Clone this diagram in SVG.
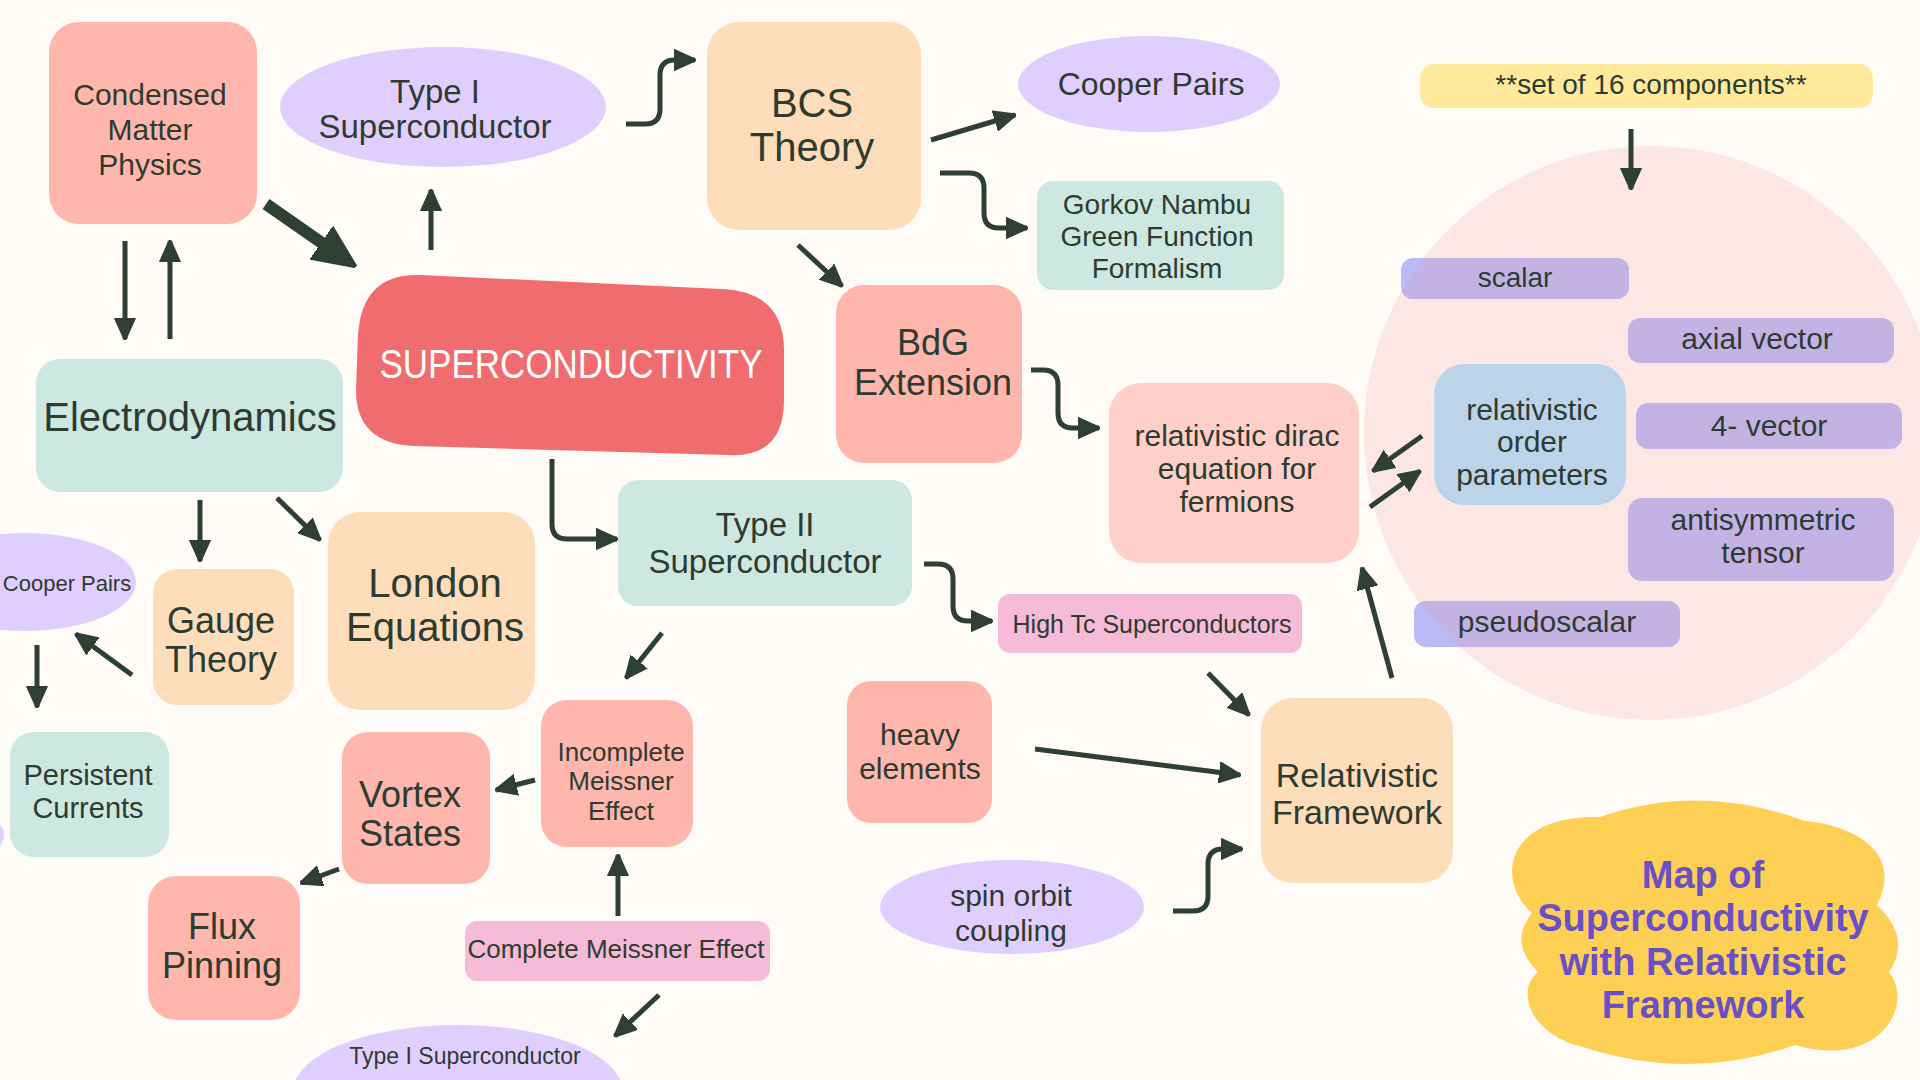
<svg xmlns="http://www.w3.org/2000/svg" width="1920" height="1080" viewBox="0 0 1920 1080">
<defs>
<style>
.t{font-family:"Liberation Sans",Arial,sans-serif;fill:#2E3B31;text-anchor:middle}
.w{fill:#FFFFFF}
.ti{font-family:"Liberation Sans",Arial,sans-serif;fill:#6A4FC7;text-anchor:middle;font-weight:bold}
.salmon{fill:#FFB6AD}
.peach{fill:#FEDDBA}
.mint{fill:#CDE8E0}
.lav{fill:#E0CFFE}
.pink{fill:#F6BBD6}
.lpink{fill:#FFD0CA}
.bar{fill:#C3B3E5}
.barb{fill:#B9BCF7}
.c{fill:none;stroke:#2E3F34;stroke-width:5;stroke-linejoin:round}
</style>
<marker id="ah" viewBox="0 0 20 20" refX="19" refY="10" markerWidth="22" markerHeight="22" markerUnits="userSpaceOnUse" orient="auto">
<path d="M0,1 L20,10 L0,19 Z" fill="#2E3F34" stroke="#2E3F34" stroke-width="2" stroke-linejoin="round"/>
</marker>
<marker id="ahb" viewBox="0 0 40 40" refX="20" refY="20" markerWidth="42" markerHeight="42" markerUnits="userSpaceOnUse" orient="auto">
<path d="M0,2 L40,20 L0,38 Z" fill="#2E3F34" stroke="#2E3F34" stroke-width="3" stroke-linejoin="round"/>
</marker>
<clipPath id="circ"><circle cx="1651" cy="433" r="287"/></clipPath>
</defs>
<rect x="0" y="0" width="1920" height="1080" fill="#FFFBF7"/>
<circle id="components-circle" cx="1651" cy="433" r="287" fill="#FDE7E5"/>

<g id="condensed-matter"><rect class="salmon" x="49" y="22" width="208" height="202" rx="30"/>
<text class="t" font-size="30" x="150" y="105">Condensed</text><text class="t" font-size="30" x="150" y="140">Matter</text><text class="t" font-size="30" x="150" y="175">Physics</text></g>

<g id="type1-top"><ellipse class="lav" cx="443" cy="107" rx="163" ry="60"/>
<text class="t" font-size="33" x="435" y="103">Type I</text><text class="t" font-size="33" x="435" y="138">Superconductor</text></g>

<g id="bcs"><rect class="peach" x="707" y="22" width="214" height="208" rx="32"/>
<text class="t" font-size="40" x="812" y="117">BCS</text><text class="t" font-size="40" x="812" y="161">Theory</text></g>

<g id="cooper-top"><ellipse class="lav" cx="1149" cy="84" rx="131" ry="48"/>
<text class="t" font-size="32" x="1151" y="95">Cooper Pairs</text></g>

<g id="gorkov"><rect class="mint" x="1037" y="181" width="247" height="109" rx="16"/>
<text class="t" font-size="28" x="1157" y="214">Gorkov Nambu</text><text class="t" font-size="28" x="1157" y="246">Green Function</text><text class="t" font-size="28" x="1157" y="278">Formalism</text></g>

<g id="bdg"><rect class="salmon" x="836" y="285" width="186" height="178" rx="28"/>
<text class="t" font-size="36" x="933" y="355">BdG</text><text class="t" font-size="36" x="933" y="395">Extension</text></g>

<g id="superconductivity"><path d="M420,275 L722,289 Q784,292 784,350 L784,400 Q784,458 728,455 L415,446 Q356,444 356,390 L358,335 Q362,273 420,275 Z" fill="#F06C6E"/>
<text class="t w" font-size="40" transform="translate(571,378) scale(0.875,1)">SUPERCONDUCTIVITY</text></g>

<g id="electrodynamics"><rect class="mint" x="36" y="359" width="307" height="133" rx="24"/>
<text class="t" font-size="40" x="190" y="431">Electrodynamics</text></g>

<g id="type2"><rect class="mint" x="618" y="480" width="294" height="126" rx="20"/>
<text class="t" font-size="33" x="765" y="536">Type II</text><text class="t" font-size="33" x="765" y="573">Superconductor</text></g>

<g id="dirac"><rect class="lpink" x="1109" y="383" width="250" height="180" rx="32"/>
<text class="t" font-size="30" x="1237" y="446">relativistic dirac</text><text class="t" font-size="30" x="1237" y="479">equation for</text><text class="t" font-size="30" x="1237" y="512">fermions</text></g>

<g id="set-of-16"><rect x="1420" y="64" width="453" height="44" rx="14" fill="#FFEA9C"/>
<text class="t" font-size="28" x="1651" y="94">**set of 16 components**</text></g>

<g id="scalar"><rect class="barb" x="1401" y="258" width="228" height="41" rx="12"/><rect class="bar" x="1401" y="258" width="228" height="41" rx="12" clip-path="url(#circ)"/>
<text class="t" font-size="28" x="1515" y="287">scalar</text></g>

<g id="axial-vector"><rect class="bar" x="1628" y="318" width="266" height="45" rx="12"/>
<text class="t" font-size="30" x="1757" y="349">axial vector</text></g>

<g id="order-parameters"><rect x="1434" y="364" width="192" height="141" rx="30" fill="#BCD4EA"/>
<text class="t" font-size="30" x="1532" y="420">relativistic</text><text class="t" font-size="30" x="1532" y="452">order</text><text class="t" font-size="30" x="1532" y="485">parameters</text></g>

<g id="four-vector"><rect class="bar" x="1636" y="403" width="266" height="46" rx="12"/>
<text class="t" font-size="30" x="1769" y="436">4- vector</text></g>

<g id="antisymmetric-tensor"><rect class="bar" x="1628" y="498" width="266" height="83" rx="14"/>
<text class="t" font-size="30" x="1763" y="530">antisymmetric</text><text class="t" font-size="30" x="1763" y="563">tensor</text></g>

<g id="pseudoscalar"><rect class="barb" x="1414" y="601" width="266" height="46" rx="12"/><rect class="bar" x="1414" y="601" width="266" height="46" rx="12" clip-path="url(#circ)"/>
<text class="t" font-size="30" x="1547" y="632">pseudoscalar</text></g>

<g id="cooper-left"><ellipse class="lav" cx="25" cy="582" rx="111" ry="49"/>
<text class="t" font-size="22" x="67" y="591">Cooper Pairs</text></g>

<g id="edge-shape"><ellipse class="lav" cx="-60" cy="835" rx="64" ry="30"/></g>

<g id="gauge"><rect class="peach" x="153" y="569" width="141" height="136" rx="24"/>
<text class="t" font-size="36" x="221" y="633">Gauge</text><text class="t" font-size="36" x="221" y="672">Theory</text></g>

<g id="london"><rect class="peach" x="328" y="512" width="207" height="198" rx="32"/>
<text class="t" font-size="40" x="435" y="597">London</text><text class="t" font-size="40" x="435" y="641">Equations</text></g>

<g id="persistent"><rect class="mint" x="10" y="732" width="159" height="125" rx="24"/>
<text class="t" font-size="29" x="88" y="785">Persistent</text><text class="t" font-size="29" x="88" y="818">Currents</text></g>

<g id="incomplete"><rect class="salmon" x="541" y="700" width="152" height="147" rx="26"/>
<text class="t" font-size="26" x="621" y="761">Incomplete</text><text class="t" font-size="26" x="621" y="790">Meissner</text><text class="t" font-size="26" x="621" y="820">Effect</text></g>

<g id="vortex"><rect class="salmon" x="342" y="732" width="148" height="152" rx="26"/>
<text class="t" font-size="36" x="410" y="807">Vortex</text><text class="t" font-size="36" x="410" y="846">States</text></g>

<g id="flux"><rect class="salmon" x="148" y="876" width="152" height="144" rx="28"/>
<text class="t" font-size="36" x="222" y="939">Flux</text><text class="t" font-size="36" x="222" y="978">Pinning</text></g>

<g id="complete"><rect class="pink" x="465" y="921" width="305" height="60" rx="12"/>
<text class="t" font-size="26" x="616" y="958">Complete Meissner Effect</text></g>

<g id="type1-bottom"><ellipse class="lav" cx="458" cy="1090" rx="164" ry="65"/>
<text class="t" font-size="23" x="465" y="1064">Type I Superconductor</text></g>

<g id="high-tc"><rect class="pink" x="998" y="594" width="304" height="59" rx="12"/>
<text class="t" font-size="25" x="1152" y="633">High Tc Superconductors</text></g>

<g id="heavy"><rect class="salmon" x="847" y="681" width="145" height="142" rx="24"/>
<text class="t" font-size="30" x="920" y="745">heavy</text><text class="t" font-size="30" x="920" y="779">elements</text></g>

<g id="relativistic-framework"><rect class="peach" x="1261" y="698" width="192" height="185" rx="32"/>
<text class="t" font-size="34" x="1357" y="787">Relativistic</text><text class="t" font-size="34" x="1357" y="824">Framework</text></g>

<g id="spin-orbit"><ellipse class="lav" cx="1012" cy="907" rx="132" ry="47"/>
<text class="t" font-size="30" x="1011" y="906">spin orbit</text><text class="t" font-size="30" x="1011" y="941">coupling</text></g>

<g id="title"><path d="M1600,817 Q1700,782 1805,821 C1850,825 1905,850 1877,905 Q1912,938 1889,972 C1915,1005 1880,1070 1795,1045 Q1690,1082 1583,1047 C1530,1035 1515,990 1538,972 Q1508,942 1532,913 C1495,880 1505,815 1600,817 Z" fill="#FDD055"/>
<text class="ti" font-size="38" x="1703" y="888">Map of</text><text class="ti" font-size="38" x="1703" y="931">Superconductivity</text><text class="ti" font-size="38" x="1703" y="975">with Relativistic</text><text class="ti" font-size="38" x="1703" y="1018">Framework</text></g>

<g id="connectors">
<path d="M266,204 L338.6,254.6" fill="none" stroke="#2E3F34" stroke-width="12" marker-end="url(#ahb)"/>
<path class="c" d="M125,241 V339" marker-end="url(#ah)"/>
<path class="c" d="M170,339 V241" marker-end="url(#ah)"/>
<path class="c" d="M431,250 V190" marker-end="url(#ah)"/>
<path class="c" d="M626,124 H645 Q660,124 660,109 V75 Q660,60 675,60 H695" marker-end="url(#ah)"/>
<path class="c" d="M931,140 L1015,115" marker-end="url(#ah)"/>
<path class="c" d="M940,173 H969 Q984,173 984,188 V213 Q984,228 999,228 H1027" marker-end="url(#ah)"/>
<path class="c" d="M798,245 L842,286" marker-end="url(#ah)"/>
<path class="c" d="M1031,370 H1043 Q1058,370 1058,385 V413 Q1058,428 1073,428 H1099" marker-end="url(#ah)"/>
<path class="c" d="M552,459 V524 Q552,539 567,539 H617" marker-end="url(#ah)"/>
<path class="c" d="M924,564 H938 Q953,564 953,579 V606 Q953,621 968,621 H992" marker-end="url(#ah)"/>
<path class="c" d="M662,633 L626,678" marker-end="url(#ah)"/>
<path class="c" d="M200,500 V561" marker-end="url(#ah)"/>
<path class="c" d="M277,498 L320,540" marker-end="url(#ah)"/>
<path class="c" d="M132,675 L76,634" marker-end="url(#ah)"/>
<path class="c" d="M37,645 V707" marker-end="url(#ah)"/>
<path class="c" d="M535,780 L496,790" marker-end="url(#ah)"/>
<path class="c" d="M339,869 L301,883" marker-end="url(#ah)"/>
<path class="c" d="M618,916 V855" marker-end="url(#ah)"/>
<path class="c" d="M659,995 L615,1036" marker-end="url(#ah)"/>
<path class="c" d="M1208,673 L1249,715" marker-end="url(#ah)"/>
<path class="c" d="M1035,749 L1240,775" marker-end="url(#ah)"/>
<path class="c" d="M1173,911 H1193 Q1208,911 1208,896 V864 Q1208,849 1223,849 H1242" marker-end="url(#ah)"/>
<path class="c" d="M1392,678 L1362,568" marker-end="url(#ah)"/>
<path class="c" d="M1631,129 V189" marker-end="url(#ah)"/>
<path class="c" d="M1422,436 L1373,471" marker-end="url(#ah)"/>
<path class="c" d="M1370,507 L1420,471" marker-end="url(#ah)"/>
</g>
</svg>
